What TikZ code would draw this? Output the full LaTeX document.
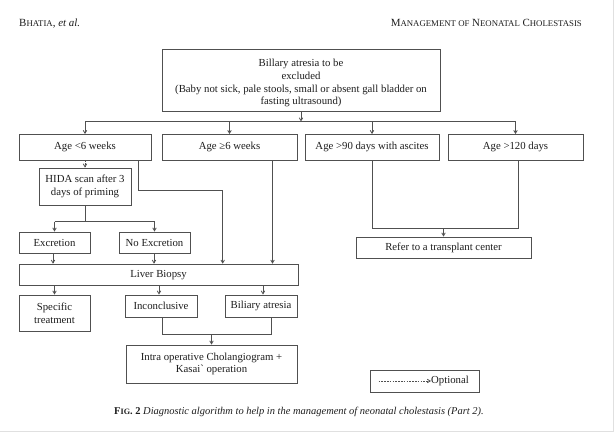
\documentclass[tikz,border=0pt]{standalone}
\usepackage{fontspec}
\setmainfont{Liberation Serif}
\usetikzlibrary{arrows.meta,calc}
\newcommand\fakesc[2]{#1{\fontsize{8.8}{9}\selectfont #2}}
\newcommand\capsc[2]{#1{\fontsize{8.2}{9}\selectfont #2}}
\definecolor{lnc}{HTML}{505050}
\definecolor{txc}{HTML}{1E1E1E}
\begin{document}
\begin{tikzpicture}[x=1bp,y=-1bp,
  box/.style={draw=lnc,line width=0.8bp,inner sep=1bp,align=center,text=txc,
    font=\fontsize{10.8}{12.6}\selectfont},
  ln/.style={draw=lnc,line width=0.8bp},
  arr/.style={ln,-{Straight Barb[length=3bp,width=3.5bp]}},
  dsh/.style={arr,dash pattern=on 1.6bp off 1.2bp}]
\useasboundingbox (0,0) rectangle (614,433);
\fill[white] (0,0) rectangle (614,433);
\draw[black!12,line width=1.2bp] (613.2,0) -- (613.2,431.2) -- (0,431.2);
% header
\node[anchor=base west,inner sep=0,text=txc,font=\fontsize{11}{12}\selectfont] (hl) at (19,26.5) {\fakesc{B}{HATIA}, \textit{et al.}};
\node[anchor=base east,inner sep=0,text=txc,font=\fontsize{11}{12}\selectfont] (hr) at (582,26.5) {\fakesc{M}{ANAGEMENT OF} \fakesc{N}{EONATAL} \fakesc{C}{HOLESTASIS}};
% boxes
\node[box,minimum width=278bp,minimum height=62bp] (top) at (301,80) {\rule{0pt}{14pt}Billary atresia to be\\excluded\\(Baby not sick, pale stools, small or absent gall bladder on\\fasting ultrasound)};
\node[box,minimum width=132bp,minimum height=25.5bp] (a1) at (85,147.25) {Age <6 weeks};
\node[box,minimum width=135bp,minimum height=25.5bp] (a2) at (229.5,147.25) {Age ≥6 weeks};
\node[box,minimum width=134bp,minimum height=25.5bp] (a3) at (372,147.25) {Age >90 days with ascites};
\node[box,minimum width=135bp,minimum height=25.5bp] (a4) at (515.5,147.25) {Age >120 days};
\node[box,minimum width=92bp,minimum height=37bp] (hida) at (85,186.5) {HIDA scan after 3\\days of priming};
\node[box,minimum width=71bp,minimum height=21bp] (exc) at (54.5,242.5) {Excretion};
\node[box,minimum width=71bp,minimum height=21bp] (nexc) at (154.5,242.5) {No Excretion};
\node[box,minimum width=279bp,minimum height=21.7bp] (lb) at (158.5,275) {Liver Biopsy};
\node[box,minimum width=71bp,minimum height=36bp] (spec) at (54.5,313) {Specific\\treatment};
\node[box,minimum width=72bp,minimum height=22bp] (inc) at (161,306) {Inconclusive};
\node[box,minimum width=72bp,minimum height=22bp] (ba) at (261,306) {Biliary atresia};
\node[box,minimum width=171bp,minimum height=38bp] (intra) at (211.5,364) {Intra operative Cholangiogram +\\Kasai\textasciigrave\ operation};
\node[box,minimum width=175bp,minimum height=21bp] (ref) at (443.5,247.5) {Refer to a transplant center};
\node[box,minimum width=109bp,minimum height=22bp] (opt) at (424.5,381) {};
\coordinate (optl) at (378.5,381);
\node[anchor=west,inner sep=0,text=txc,font=\fontsize{10.8}{12.6}\selectfont] (opttxt) at (431,381) {Optional};
\draw[dsh] (optl) -- (opttxt.west);
% caption
\node[anchor=base west,inner sep=0,text=txc,font=\fontsize{10.5}{12}\selectfont] (cap) at (114,414.5) {\textbf{\capsc{F}{IG}. 2} \textit{Diagnostic algorithm to help in the management of neonatal cholestasis (Part 2).}};
% connectors
\coordinate (bus) at (0,121.5);
\draw[arr] (top.south) -- (top.south |- bus);
\draw[ln] (a1.north |- bus) -- (a4.north |- bus);
\foreach \n in {a1,a2,a3,a4} \draw[arr] (\n.north |- bus) -- (\n.north);
\draw[dsh] (a1.south) -- (hida.north);
\coordinate (j1) at (222.7,190.7);
\draw[arr] ([xshift=53bp]a1.south) |- (j1) -- (j1 |- lb.north);
\draw[arr] ([xshift=43bp]a2.south) -- ([xshift=43bp]a2.south |- lb.north);
\coordinate (hb) at (0,221.7);
\draw[ln] (hida.south) -- (hida.south |- hb);
\draw[ln] (exc.north |- hb) -- (nexc.north |- hb);
\draw[arr] (exc.north |- hb) -- (exc.north);
\draw[arr] (nexc.north |- hb) -- (nexc.north);
\draw[arr] ([xshift=-1.5bp]exc.south) -- ([xshift=-1.5bp]exc.south |- lb.north);
\draw[arr] ([xshift=-0.5bp]nexc.south) -- ([xshift=-0.5bp]nexc.south |- lb.north);
\draw[arr] (spec.north |- lb.south) -- (spec.north);
\draw[arr] ([xshift=-2bp]inc.north |- lb.south) -- ([xshift=-2bp]inc.north);
\draw[arr] ([xshift=2bp]ba.north |- lb.south) -- ([xshift=2bp]ba.north);
\coordinate (ib) at (0,334);
\draw[ln] ([xshift=1bp]inc.south) |- ($([xshift=10bp]ba.south |- ib)$) -- ([xshift=10bp]ba.south);
\draw[arr] (intra.north |- ib) -- (intra.north);
\coordinate (rb) at (0,228.3);
\draw[ln] (a3.south) |- ($([xshift=2.5bp]a4.south |- rb)$) -- ([xshift=2.5bp]a4.south);
\draw[arr] (ref.north |- rb) -- (ref.north);
\end{tikzpicture}
\end{document}
